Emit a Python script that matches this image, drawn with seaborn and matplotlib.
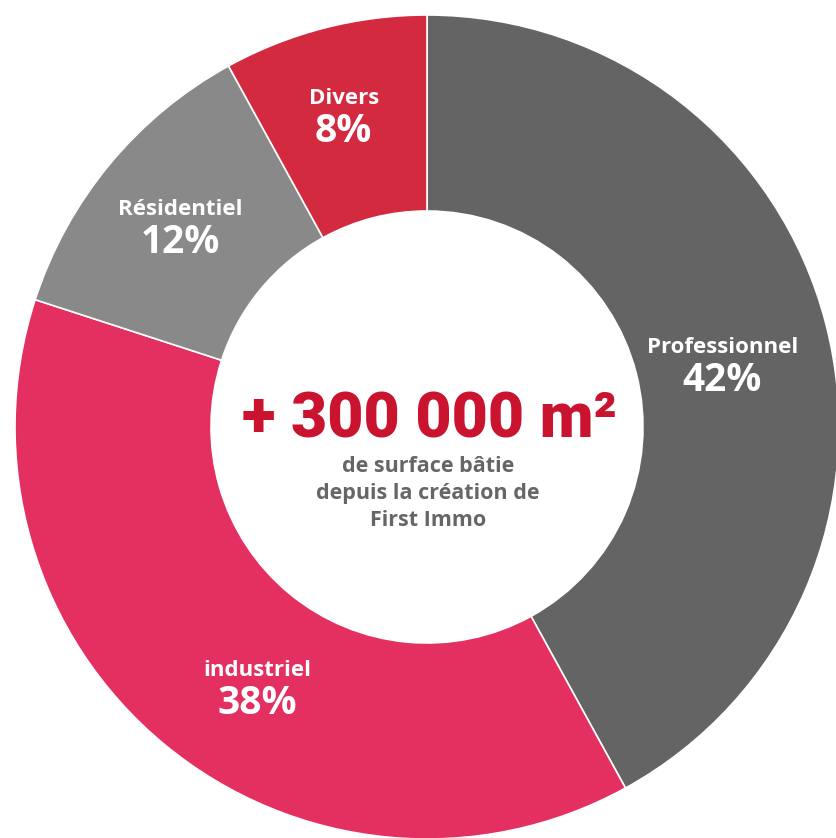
import numpy as np
import matplotlib
matplotlib.use("Agg")
import matplotlib.pyplot as plt
import seaborn as sns

categories = ["Professionnel", "industriel", "Résidentiel", "Divers"]
shares = [42, 38, 12, 8]
pct_labels = ["42%", "38%", "12%", "8%"]
colors = ["#646464", "#E33060", "#898989", "#D32A40"]
center_title = "+ 300 000 m²"
center_sub = ["de surface bâtie", "depuis la création de", "First Immo"]

sns.set_theme(style="white")
plt.rcParams['font.family'] = ['Open Sans', 'DejaVu Sans']

W, H = 837, 838
fig = plt.figure(figsize=(W / 100, H / 100), dpi=100)
ax = fig.add_axes([0, 0, 1, 1])

cx, cy = 427, H - 427
R = 412
ring_w = 196

wedges, _ = ax.pie(shares, colors=colors, startangle=90, counterclock=False,
                   radius=R, center=(cx, cy), frame=True,
                   wedgeprops=dict(width=ring_w, edgecolor="white", linewidth=1.2))
ax.set_xlim(0, W)
ax.set_ylim(0, H)
ax.set_aspect("equal")
ax.axis("off")

label_r = [302, 311, 318, 322]
angle_shift = [-2.5, 6.5, 0.5, 0.6]
for w, name, pct, lr, sh in zip(wedges, categories, pct_labels, label_r, angle_shift):
    mid = np.deg2rad((w.theta1 + w.theta2) / 2 + sh)
    x = cx + lr * np.cos(mid)
    y = cy + lr * np.sin(mid)
    ax.text(x, y + 17, name, ha="center", va="center", color="white",
            fontsize=16, fontweight="bold")
    ax.text(x, y - 16, pct, ha="center", va="center", color="white",
            fontsize=28, fontweight="bold")

ax.text(cx + 2, H - 420, center_title, ha="center", va="center", color="#C9132F",
        fontsize=45, fontweight="heavy", family=["Roboto", "DejaVu Sans"])
for i, line in enumerate(center_sub):
    ax.text(cx + 1, H - 466 - 27 * i, line, ha="center", va="center", color="#666666",
            fontsize=15.5, fontweight="bold")

fig.savefig("out.png", dpi=100, facecolor="white")
